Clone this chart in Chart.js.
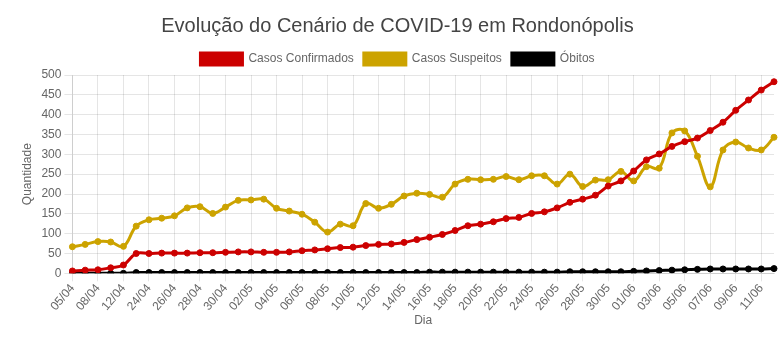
<!DOCTYPE html>
<html lang="pt-BR">

<head>
    <meta charset="UTF-8">
    <title>COVID-19 Rondonópolis</title>
    <script src="https://cdn.jsdelivr.net/npm/chart.js"></script>
    <style>
        html, body { margin: 0; padding: 0; background: #fff; }
        .chart-box { width: 779px; height: 352px; }
    </style>
</head>

<body>
    <div class="chart-box">
        <canvas id="covidChart"></canvas>
    </div>

    <script>
        // Dias (rótulos do eixo x)
        const dias = [
            '05/04', '07/04', '08/04', '10/04', '12/04', '14/04',
            '24/04', '25/04', '26/04', '27/04', '28/04', '29/04', '30/04',
            '01/05', '02/05', '03/05', '04/05', '05/05', '06/05', '07/05', '08/05', '09/05', '10/05',
            '11/05', '12/05', '13/05', '14/05', '15/05', '16/05', '17/05', '18/05', '19/05', '20/05',
            '21/05', '22/05', '23/05', '24/05', '25/05', '26/05', '27/05', '28/05', '29/05', '30/05', '31/05',
            '01/06', '02/06', '03/06', '04/06', '05/06', '06/06', '07/06', '08/06', '09/06', '10/06', '11/06', '12/06'
        ];

        const confirmados = [
            6, 8, 9, 14, 21, 50, 50, 51, 51, 51, 52, 52, 53, 54, 54,
            53, 53, 54, 57, 59, 62, 65, 66, 70, 73, 74, 78, 85, 91, 98,
            108, 120, 124, 130, 138, 141, 151, 155, 165, 179, 187, 197, 220, 233,
            258, 286, 301, 320, 332, 341, 360, 381, 411, 437, 462, 483
        ];

        const suspeitos = [
            67, 73, 80, 79, 68, 119, 135, 139, 145, 165, 168, 151, 167, 184, 185,
            187, 164, 157, 149, 129, 104, 124, 120, 176, 164, 174, 195, 202, 199, 192,
            225, 237, 236, 237, 244, 236, 246, 246, 225, 250, 219, 235, 236, 257,
            233, 269, 265, 354, 359, 295, 218, 311, 331, 316, 311, 343
        ];

        const obitos = [
            0, 0, 0, 0, 0, 2, 2, 2, 2, 2, 2, 2, 2, 2, 2,
            2, 2, 2, 2, 2, 2, 2, 2, 2, 2, 2, 2, 2, 3, 3,
            3, 3, 3, 3, 3, 3, 3, 3, 3, 4, 4, 4, 4, 4,
            5, 6, 7, 8, 9, 10, 11, 11, 11, 11, 11, 12
        ];

        const textColor = '#666';
        Chart.defaults.font.family = "'Liberation Sans', Arial, sans-serif";
        Chart.defaults.color = textColor;

        function serie(label, data, cor) {
            return {
                label: label,
                data: data,
                borderColor: cor,
                backgroundColor: cor,
                pointBackgroundColor: cor,
                pointBorderColor: cor,
                borderWidth: 3,
                pointRadius: 3,
                pointBorderWidth: 1,
                tension: 0.4,
                fill: false
            };
        }

        const ctx = document.getElementById('covidChart').getContext('2d');
        new Chart(ctx, {
            type: 'line',
            data: {
                labels: dias,
                datasets: [
                    serie('Casos Confirmados', confirmados, '#cc0000'),
                    serie('Casos Suspeitos', suspeitos, '#cca300'),
                    serie('Óbitos', obitos, '#000000')
                ]
            },
            options: {
                responsive: true,
                maintainAspectRatio: false,
                animation: false,
                layout: { padding: { left: 16, right: 0, top: 4, bottom: 20 } },
                scales: {
                    y: {
                        min: 0,
                        max: 500,
                        ticks: { stepSize: 50, font: { size: 12 } },
                        grid: { color: 'rgba(0,0,0,0.1)' },
                        title: { display: true, text: 'Quantidade', font: { size: 12 } }
                    },
                    x: {
                        ticks: { font: { size: 12 }, maxRotation: 50, minRotation: 50, padding: 0 },
                        grid: { color: 'rgba(0,0,0,0.1)' },
                        title: { display: true, text: 'Dia', font: { size: 12 }, padding: { top: 0 } }
                    }
                },
                plugins: {
                    title: {
                        display: true,
                        text: 'Evolução do Cenário de COVID-19 em Rondonópolis',
                        color: '#444',
                        font: { size: 20, weight: 'normal' },
                        padding: { top: 10, bottom: 5 }
                    },
                    legend: {
                        labels: { boxWidth: 42, font: { size: 12 } }
                    }
                }
            }
        });
    </script>
</body>

</html>
